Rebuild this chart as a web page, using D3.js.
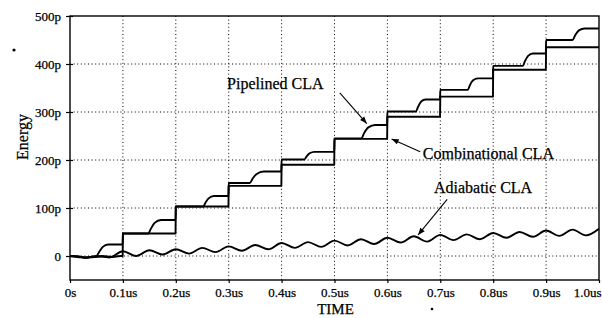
<!DOCTYPE html>
<html><head><meta charset="utf-8">
<script src="https://cdn.jsdelivr.net/npm/d3@7"></script>
<style>body{margin:0;background:#fff}svg{display:block}</style>
</head><body>
<svg id="c" width="602" height="318"></svg>
<script>
// ---- data (time in us, energy in pJ) ----
const xTicks = [0,0.1,0.2,0.3,0.4,0.5,0.6,0.7,0.8,0.9,1.0];
const xTickLabels = ["0s","0.1us","0.2us","0.3us","0.4us","0.5us","0.6us","0.7us","0.8us","0.9us","1.0us"];
const yTicks = [0,100,200,300,400,500];
const yTickLabels = ["0","100p","200p","300p","400p","500p"];

const combinationalCLA = [[0,0],[0.015,-1],[0.03,-3],[0.045,-1],[0.06,0],[0.08,-2],[0.095,0],[0.0995,0],
 [0.1,47],[0.1995,47],[0.2,103],[0.2995,103],[0.3,146],[0.3995,146],[0.4,190],[0.4995,190],
 [0.5,244],[0.5995,244],[0.6,290],[0.6995,290],[0.7,332],[0.7995,332],[0.8,388],[0.8995,388],[0.9,435],[1.0,435]];

const pipelinedCLA = [[0,0],[0.015,-1],[0.03,-3],[0.045,-1],[0.05,0],[0.055,8],[0.062,19],[0.072,24],[0.0995,24],
 [0.1,47],[0.148,47],[0.153,57],[0.16,69],[0.172,75],[0.1995,75],
 [0.2,103],[0.252,103],[0.256,111],[0.262,120],[0.272,125],[0.2995,125],
 [0.3,152],[0.34,152],[0.345,161],[0.353,171],[0.366,176],[0.3995,176],
 [0.4,201],[0.443,201],[0.447,207],[0.453,214],[0.462,217],[0.4995,217],
 [0.5,245],[0.551,245],[0.556,256],[0.564,268],[0.577,273],[0.5995,273],
 [0.6,301],[0.654,301],[0.658,311],[0.664,322],[0.672,326],[0.6995,326],
 [0.7,346],[0.752,346],[0.756,356],[0.762,366],[0.771,370],[0.7995,370],
 [0.8,396],[0.856,396],[0.86,406],[0.866,417],[0.875,422],[0.8995,422],
 [0.9,450],[0.95,450],[0.955,460],[0.962,470],[0.973,474],[1.0,474]];

const adiabaticCLA = [[0,0],[0.015,-2],[0.03,-4],[0.045,-2],[0.06,-1],[0.075,-3],[0.1,10],[0.125,0],[0.15,12],[0.175,3],
 [0.2,14],[0.225,5],[0.25,17],[0.275,8],[0.3,20],[0.325,11],[0.35,23],[0.375,14],[0.4,27],[0.425,17],
 [0.45,29],[0.475,19],[0.5,32],[0.525,22],[0.55,35],[0.575,25],[0.6,38],[0.625,28],[0.65,41],[0.675,30],
 [0.7,44],[0.725,33],[0.75,45],[0.775,35],[0.8,48],[0.825,38],[0.85,50],[0.875,40],[0.9,53],[0.925,42],
 [0.95,55],[0.975,43],[1.0,57]];

const annotations = [
  {text:"Pipelined CLA", tx:0.297, ty:348, tip:[0.561,276], tail:[0.51,340]},
  {text:"Combinational CLA", tx:0.667, ty:202, tip:[0.608,244], tail:[0.662,217]},
  {text:"Adiabatic CLA", tx:0.688, ty:132, tip:[0.658,44], tail:[0.713,118]}
];

// ---- chart ----
const svg = d3.select("#c");
const L = 70, R = 599, T = 16, B = 280;
const x = d3.scaleLinear().domain([0,1.0]).range([L,R]);
const y = d3.scaleLinear().domain([-50,500]).range([B,T]);
const serif = "'Liberation Serif','Times New Roman',serif";

// grid
const grid = svg.append("g").attr("stroke","#000").attr("stroke-width",1).attr("stroke-dasharray","1,2.6");
grid.selectAll("line.v").data(xTicks.slice(1,-1)).join("line")
  .attr("x1",d=>x(d)).attr("x2",d=>x(d)).attr("y1",T).attr("y2",B);
grid.selectAll("line.h").data(yTicks.slice(0,-1)).join("line")
  .attr("x1",L).attr("x2",R).attr("y1",d=>y(d)).attr("y2",d=>y(d));

// axes
const yAxis = d3.axisLeft(y).tickValues(yTicks).tickFormat((d,i)=>yTickLabels[i]).tickSize(4).tickPadding(5);
const gy = svg.append("g").attr("transform",`translate(${L},0)`).call(yAxis);
gy.select(".domain").remove();
gy.selectAll("text").attr("font-family",serif).attr("font-size",13).attr("fill","#000")
  .attr("stroke","#000").attr("stroke-width",0.25);
gy.selectAll(".tick line").attr("stroke","#000").attr("stroke-width",1.2).attr("x1",3);

const xAxis = d3.axisBottom(x).tickValues(xTicks).tickFormat((d,i)=>xTickLabels[i]).tickSize(3);
const gx = svg.append("g").attr("transform",`translate(0,${B})`).call(xAxis);
gx.select(".domain").remove();
gx.selectAll("text").attr("font-family",serif).attr("font-size",13).attr("fill","#000")
  .attr("y",17).attr("dy",0).attr("stroke","#000").attr("stroke-width",0.25);
gx.selectAll(".tick line").attr("stroke","#000").attr("stroke-width",1.2);
gx.selectAll(".tick").filter((d,i)=>i===xTicks.length-1).select("text")
  .attr("text-anchor","end").attr("dx",601-R);

// frame
svg.append("rect").attr("x",L).attr("y",T).attr("width",R-L).attr("height",B-T)
  .attr("fill","none").attr("stroke","#000").attr("stroke-width",1.4);

// curves
const lineStep = d3.line().x(d=>x(d[0])).y(d=>y(d[1])).curve(d3.curveLinear);
const lineSmooth = d3.line().x(d=>x(d[0])).y(d=>y(d[1])).curve(d3.curveMonotoneX);
const curves = svg.append("g").attr("fill","none").attr("stroke","#000").attr("stroke-width",1.9).attr("stroke-linejoin","round");
curves.append("path").attr("d",lineStep(combinationalCLA));
curves.append("path").attr("d",lineSmooth(pipelinedCLA));
curves.append("path").attr("d",lineSmooth(adiabaticCLA));

// arrow marker
svg.append("defs").append("marker").attr("id","ah").attr("viewBox","0 0 10 10")
  .attr("refX",10).attr("refY",5).attr("markerWidth",9).attr("markerHeight",7)
  .attr("markerUnits","userSpaceOnUse").attr("orient","auto")
  .append("path").attr("d","M0,1 L10,5 L0,9 Z").attr("fill","#000");

const ann = svg.append("g");
annotations.forEach(a=>{
  ann.append("line").attr("x1",x(a.tail[0])).attr("y1",y(a.tail[1]))
    .attr("x2",x(a.tip[0])).attr("y2",y(a.tip[1]))
    .attr("stroke","#000").attr("stroke-width",1.1).attr("marker-end","url(#ah)");
  ann.append("text").attr("x",x(a.tx)).attr("y",y(a.ty)).attr("text-anchor","start")
    .attr("font-family",serif).attr("font-size",16).attr("fill","#000")
    .attr("stroke","#000").attr("stroke-width",0.25).text(a.text);
});

// axis titles
svg.append("text").attr("x",(L+R)/2+1).attr("y",314).attr("text-anchor","middle")
  .attr("font-family",serif).attr("font-size",15).attr("fill","#000")
  .attr("stroke","#000").attr("stroke-width",0.25).text("TIME");
svg.append("text").attr("transform","translate(28,137) rotate(-90)").attr("text-anchor","middle")
  .attr("font-family",serif).attr("font-size",16).attr("fill","#000")
  .attr("stroke","#000").attr("stroke-width",0.25).text("Energy");

// scan specks present in the reference
svg.append("circle").attr("cx",14).attr("cy",50).attr("r",1.6).attr("fill","#000");
svg.append("circle").attr("cx",432).attr("cy",309).attr("r",1.3).attr("fill","#000");
</script>
</body></html>
